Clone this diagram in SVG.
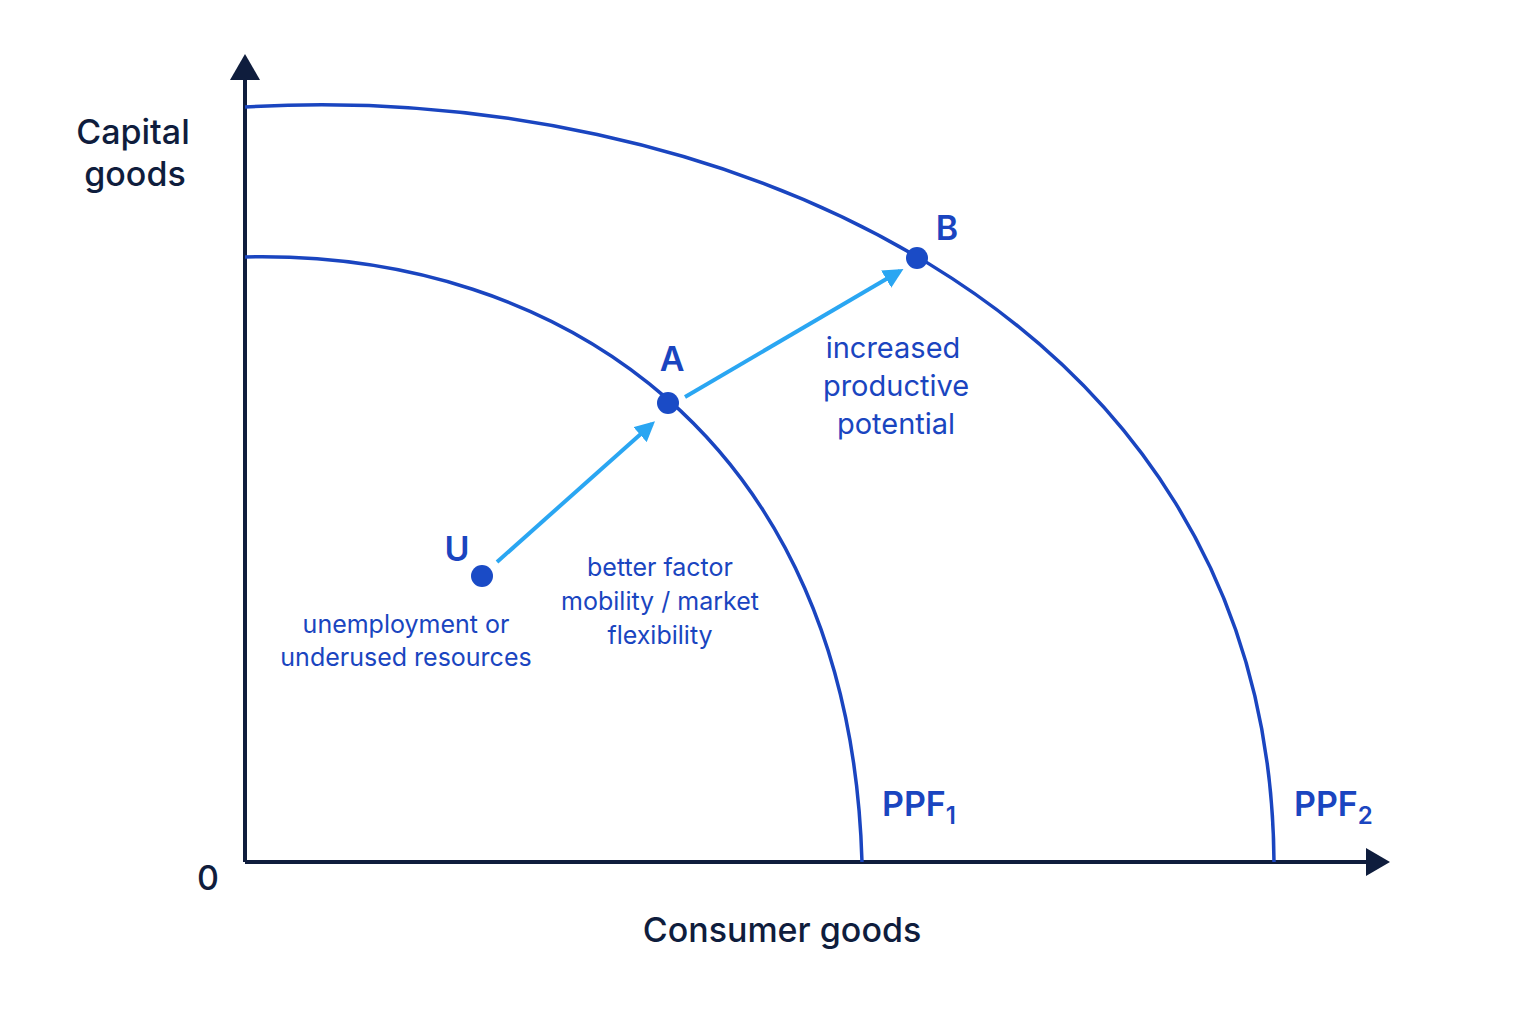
<svg xmlns="http://www.w3.org/2000/svg" width="1536" height="1024" viewBox="0 0 1536 1024">
<style>
.ax{stroke:#0f1d3d;stroke-width:4;fill:none}
.ppf{stroke:#1a45c0;stroke-width:3.5;fill:none}
.arr{stroke:#2aa6f2;stroke-width:4;fill:none}
.dot{fill:#1a4bc6}
.t{font-family:Inter,"Liberation Sans",sans-serif}
.dark{fill:#0f1d3d;font-size:34px;font-weight:500}
.pt{fill:#1a45c0;font-size:34px;font-weight:600}
.lab{fill:#1a45c0;font-size:25px}
</style>
<defs>
<marker id="ah" viewBox="0 0 10 10" refX="8" refY="5" markerWidth="5" markerHeight="5" orient="auto" markerUnits="strokeWidth"><path d="M0,0 L10,5 L0,10 Z" fill="#2aa6f2"/></marker>
</defs>
<g id="axes">
<path class="ax" d="M245,862 V78 M245,862 H1368"/>
<path d="M230,80 L245,54 L260,80 Z" fill="#0f1d3d"/>
<path d="M1366,848 L1390,862 L1366,876 Z" fill="#0f1d3d"/>
<text class="t dark" x="133" y="144" text-anchor="middle">Capital</text>
<text class="t dark" x="135" y="186" text-anchor="middle">goods</text>
<text class="t dark" x="208" y="890" text-anchor="middle">0</text>
<text class="t dark" x="782" y="942" text-anchor="middle">Consumer goods</text>
</g>
<g id="ppf1"><path class="ppf" d="M245,257 C560,250 850,440 862,862"/>
<text class="t pt" x="882" y="816">PPF<tspan font-size="24" dy="8">1</tspan></text></g>
<g id="ppf2"><path class="ppf" d="M245,107 C700,80 1270,300 1274,862"/>
<text class="t pt" x="1294" y="816">PPF<tspan font-size="24" dy="8">2</tspan></text></g>
<g id="connectors">
<path class="arr" marker-end="url(#ah)" d="M497,562 L652,424"/>
<path class="arr" marker-end="url(#ah)" d="M685,397 L900,271"/>
</g>
<g id="U"><circle class="dot" cx="482" cy="576" r="11"/>
<text class="t pt" x="457" y="561" text-anchor="middle">U</text>
<text class="t lab" x="406" y="633" text-anchor="middle">unemployment or</text>
<text class="t lab" x="406" y="666" text-anchor="middle">underused resources</text></g>
<g id="A"><circle class="dot" cx="668" cy="403" r="11"/>
<text class="t pt" x="672" y="371" text-anchor="middle">A</text></g>
<g id="B"><circle class="dot" cx="917" cy="258" r="11"/>
<text class="t pt" x="947" y="240" text-anchor="middle">B</text></g>
<g id="lab1">
<text class="t lab" x="660" y="576" text-anchor="middle">better factor</text>
<text class="t lab" x="660" y="610" text-anchor="middle">mobility / market</text>
<text class="t lab" x="660" y="644" text-anchor="middle">flexibility</text></g>
<g id="lab2">
<text class="t lab" font-size="29" style="font-size:29px" x="893" y="358" text-anchor="middle">increased</text>
<text class="t lab" style="font-size:29px" x="896" y="396" text-anchor="middle">productive</text>
<text class="t lab" style="font-size:29px" x="896" y="434" text-anchor="middle">potential</text></g>
</svg>
